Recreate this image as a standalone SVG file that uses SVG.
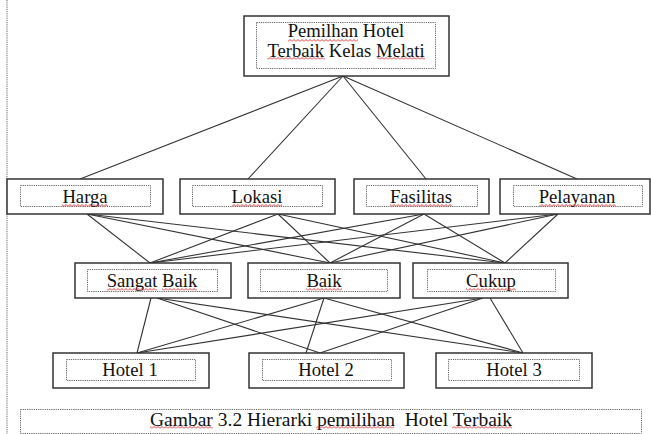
<svg xmlns="http://www.w3.org/2000/svg" width="651" height="434" viewBox="0 0 651 434">
<style>
.box{fill:#fff;stroke:#333;stroke-width:1.5}
.in{fill:none;stroke:#666;stroke-width:1;stroke-dasharray:1.2 1}
.t{font-family:"Liberation Serif","Times New Roman",serif;font-size:18.67px;fill:#111;text-anchor:middle}
.c line{stroke:#333;stroke-width:1.1}
.sq{fill:url(#sq)}
</style>
<defs>
<pattern id="sq" width="4" height="3" patternUnits="userSpaceOnUse">
<path d="M0,2.5 L2,0.5 L4,2.5" fill="none" stroke="#e02020" stroke-width="0.9"/>
</pattern>
</defs>
<rect width="651" height="434" fill="#fff"/>
<line x1="7" y1="0" x2="7" y2="434" stroke="#666" stroke-width="1" stroke-dasharray="1.2 1"/>

<g id="connectors" class="c">
<line x1="343" y1="76" x2="80" y2="179"/>
<line x1="343" y1="76" x2="248" y2="179"/>
<line x1="343" y1="76" x2="426" y2="179"/>
<line x1="343" y1="76" x2="577" y2="179"/>

<line x1="87" y1="214" x2="150" y2="263"/>
<line x1="87" y1="214" x2="330" y2="263"/>
<line x1="87" y1="214" x2="505" y2="263"/>
<line x1="278" y1="214" x2="150" y2="263"/>
<line x1="278" y1="214" x2="330" y2="263"/>
<line x1="278" y1="214" x2="505" y2="263"/>
<line x1="424" y1="214" x2="150" y2="263"/>
<line x1="424" y1="214" x2="330" y2="263"/>
<line x1="424" y1="214" x2="505" y2="263"/>
<line x1="558" y1="214" x2="150" y2="263"/>
<line x1="558" y1="214" x2="330" y2="263"/>
<line x1="558" y1="214" x2="505" y2="263"/>

<line x1="151" y1="298" x2="137" y2="353"/>
<line x1="157" y1="298" x2="320" y2="353"/>
<line x1="157" y1="298" x2="523" y2="353"/>
<line x1="324" y1="298" x2="137" y2="353"/>
<line x1="324" y1="298" x2="306" y2="353"/>
<line x1="324" y1="298" x2="523" y2="353"/>
<line x1="483" y1="298" x2="137" y2="353"/>
<line x1="483" y1="298" x2="320" y2="353"/>
<line x1="490" y1="298" x2="523" y2="353"/>
</g>

<g id="goal">
<rect class="box" x="244" y="16" width="205" height="60"/>
<rect class="in" x="256.5" y="22.5" width="179" height="46"/>
<text class="t" x="346" y="37">Pemilhan Hotel</text>
<text class="t" x="346" y="57">Terbaik Kelas Melati</text>
<rect class="sq" x="288" y="39" width="70" height="3"/>
<rect class="sq" x="267" y="57" width="58" height="3"/>
<rect class="sq" x="377" y="57" width="48" height="3"/>
</g>

<g id="harga">
<rect class="box" x="7" y="179" width="156" height="35"/>
<rect class="in" x="20.5" y="185.5" width="130" height="21"/>
<text class="t" x="85" y="203">Harga</text>
<rect class="sq" x="62" y="204" width="46" height="3"/>
</g>
<g id="lokasi">
<rect class="box" x="180" y="179" width="155" height="35"/>
<rect class="in" x="192.5" y="185.5" width="130" height="21"/>
<text class="t" x="257" y="203">Lokasi</text>
<rect class="sq" x="232" y="204" width="50" height="3"/>
</g>
<g id="fasilitas">
<rect class="box" x="354" y="179" width="135" height="35"/>
<rect class="in" x="366.5" y="185.5" width="111" height="21"/>
<text class="t" x="421" y="203">Fasilitas</text>
<rect class="sq" x="390" y="204" width="62" height="3"/>
</g>
<g id="pelayanan">
<rect class="box" x="500" y="179" width="150" height="35"/>
<rect class="in" x="513.5" y="185.5" width="129" height="21"/>
<text class="t" x="577" y="203">Pelayanan</text>
<rect class="sq" x="539" y="204" width="77" height="3"/>
</g>

<g id="sangat-baik">
<rect class="box" x="75" y="263" width="156" height="35"/>
<rect class="in" x="87.5" y="269.5" width="130" height="22"/>
<text class="t" x="152" y="287">Sangat Baik</text>
<rect class="sq" x="107" y="288" width="50" height="3"/>
<rect class="sq" x="162" y="288" width="35" height="3"/>
</g>
<g id="baik">
<rect class="box" x="248" y="263" width="152" height="35"/>
<rect class="in" x="260.5" y="269.5" width="127" height="22"/>
<text class="t" x="324" y="287">Baik</text>
<rect class="sq" x="306" y="288" width="36" height="3"/>
</g>
<g id="cukup">
<rect class="box" x="413" y="263" width="155" height="35"/>
<rect class="in" x="427.5" y="269.5" width="128" height="22"/>
<text class="t" x="491" y="287">Cukup</text>
<rect class="sq" x="466" y="288" width="50" height="3"/>
</g>

<g id="hotel1">
<rect class="box" x="53" y="353" width="156" height="35"/>
<rect class="in" x="66.5" y="359.5" width="129" height="21"/>
<text class="t" x="130" y="376">Hotel 1</text>
</g>
<g id="hotel2">
<rect class="box" x="249" y="353" width="155" height="35"/>
<rect class="in" x="262.5" y="359.5" width="129" height="21"/>
<text class="t" x="326" y="376">Hotel 2</text>
</g>
<g id="hotel3">
<rect class="box" x="436" y="353" width="156" height="35"/>
<rect class="in" x="448.5" y="359.5" width="131" height="21"/>
<text class="t" x="514" y="376">Hotel 3</text>
</g>

<g id="caption">
<rect class="in" x="20.5" y="409.5" width="621" height="24"/>
<text class="t" x="150" y="426" style="text-anchor:start" textLength="362" lengthAdjust="spacingAndGlyphs" xml:space="preserve">Gambar 3.2 Hierarki pemilihan  Hotel Terbaik</text>
<rect class="sq" x="150" y="426" width="63" height="3"/>
<rect class="sq" x="316" y="426" width="78" height="3"/>
<rect class="sq" x="452" y="426" width="60" height="3"/>
</g>
</svg>
